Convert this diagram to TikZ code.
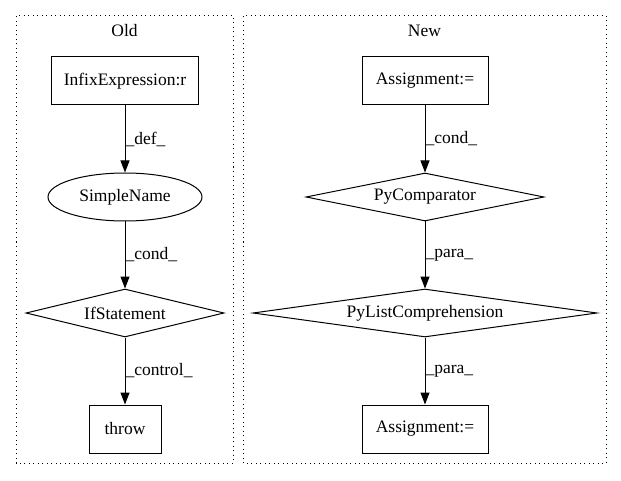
\documentclass[tikz,border=0pt]{standalone}
\usepackage{fontspec}
\setmainfont{Liberation Serif}
\usetikzlibrary{shapes.geometric,arrows.meta}
\begin{document}
\begin{tikzpicture}[x=1pt,y=1pt,
  every node/.style={font=\fontsize{17.5}{20}\selectfont},
  cluster/.style={draw, line width=1pt, dash pattern=on 1pt off 3.5pt},
  rectbox/.style={draw, line width=1pt, rectangle, inner sep=0pt},
  ellbox/.style={draw, line width=1pt, ellipse, inner sep=0pt, minimum width=154pt, minimum height=48pt},
  diam/.style={draw, line width=1pt, diamond, inner sep=0pt},
  edge/.style={draw, line width=1pt, -{Triangle[length=12pt,width=9pt]}},
  elabel/.style={right, inner sep=0pt, anchor=west}
]
\useasboundingbox (0,0) rectangle (621,480);
% clusters
\draw[cluster] (16,17) rectangle (233,464);
\node (oldt) at (124.5,449) {Old};
\draw[cluster] (243,17) rectangle (606,464);
\node (newt) at (424.5,449) {New};
% Old
\node[rectbox, minimum width=147pt, minimum height=48pt] (infix) at (125,399) {InfixExpression:r};
\node[ellbox] (simple) at (125,283) {SimpleName};
\node[diam, minimum width=198pt, minimum height=48pt, aspect=4.125] (ifst) at (125,167) {IfStatement};
\node[rectbox, minimum width=72pt, minimum height=48pt] (throw) at (125,51) {throw};
\draw[edge] (infix) -- node[elabel, pos=0.5] {\_def\_} (simple);
\draw[edge] (simple) -- node[elabel, pos=0.5] {\_cond\_} (ifst);
\draw[edge] (ifst) -- node[elabel, pos=0.5] {\_control\_} (throw);
% New
\node[rectbox, minimum width=126pt, minimum height=48pt] (asg1) at (425,399) {Assignment:=};
\node[diam, minimum width=238pt, minimum height=48pt, aspect=4.96] (pycomp) at (425,283) {PyComparator};
\node[diam, minimum width=344pt, minimum height=48pt, aspect=7.17] (pylist) at (425,167) {PyListComprehension};
\node[rectbox, minimum width=126pt, minimum height=48pt] (asg2) at (425,51) {Assignment:=};
\draw[edge] (asg1) -- node[elabel, pos=0.5] {\_cond\_} (pycomp);
\draw[edge] (pycomp) -- node[elabel, pos=0.5] {\_para\_} (pylist);
\draw[edge] (pylist) -- node[elabel, pos=0.5] {\_para\_} (asg2);
\end{tikzpicture}
\end{document}
